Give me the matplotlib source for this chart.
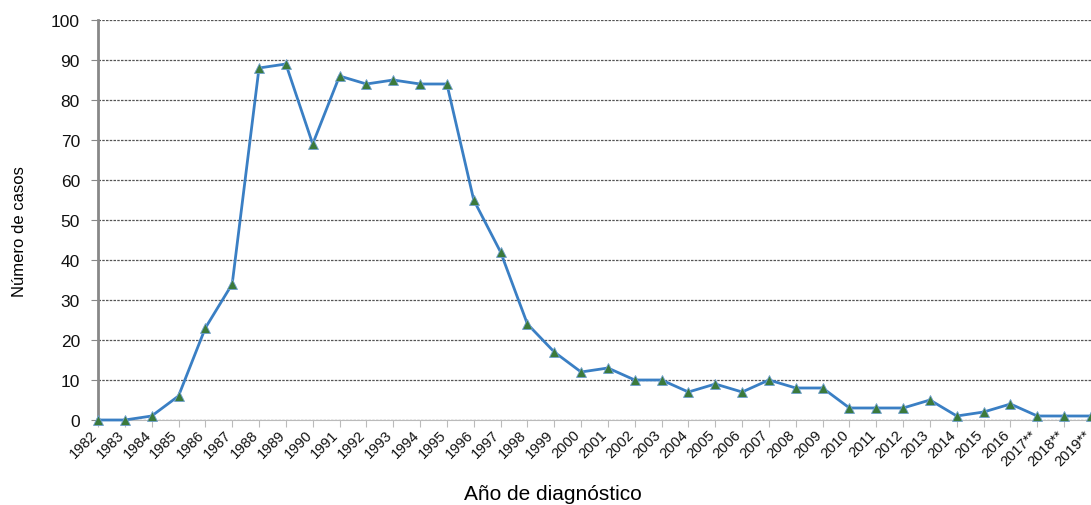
import matplotlib
matplotlib.use("Agg")
from matplotlib import pyplot as plt
from matplotlib.transforms import ScaledTranslation
import numpy as np

plt.rcParams['font.family'] = ['Liberation Sans', 'DejaVu Sans']

years = [str(y) for y in range(1982, 2017)] + ['2017**', '2018**', '2019**']
cases = [0, 0, 1, 6, 23, 34, 88, 89, 69, 86, 84, 85, 84, 84, 55, 42, 24, 17,
         12, 13, 10, 10, 7, 9, 7, 10, 8, 8, 3, 3, 3, 5, 1, 2, 4, 1, 1, 1]
y_ticks = list(range(0, 101, 10))

fig = plt.figure(figsize=(10.91, 5.06), dpi=100)
ax = fig.add_axes([98 / 1091, 1 - 421 / 506, 1 - 98 / 1091, 400 / 506])

x = np.arange(len(years))
ax.plot(x, cases, color='#3a7fc4', lw=2, marker='^', markersize=7,
        markerfacecolor='#3b7a3b', markeredgecolor='#6fa0d0',
        markeredgewidth=0.6, clip_on=False, zorder=3)

ax.set_xlim(0, len(years) - 1)
ax.set_ylim(0, 100)
ax.set_yticks(y_ticks)
ax.set_xticks(x)
ax.set_xticklabels([])
# rotated year labels, nudged left so the last one stays inside the figure
lbl_trans = ax.get_xaxis_transform() + ScaledTranslation(-8 / 100, -7 / 100,
                                                         fig.dpi_scale_trans)
for xi, yr in zip(x, years):
    ax.text(xi, 0, yr, transform=lbl_trans, rotation=45, ha='right',
            va='top', rotation_mode='anchor', fontsize=10.5, color='#111111')

ax.tick_params(axis='y', labelsize=12.5, length=5, color='#888888', pad=8,
               labelcolor='#111111')
ax.tick_params(axis='x', length=5, color='#bbbbbb')

ax.grid(axis='y', linestyle=(0, (2, 1)), color='#555555', lw=0.9)
ax.set_axisbelow(True)
for side in ['top', 'right']:
    ax.spines[side].set_visible(False)
ax.spines['left'].set_color('#888888')
ax.spines['left'].set_linewidth(2)
ax.spines['bottom'].set_color('#bbbbbb')

fig.text(20 / 1091, 1 - 232 / 506, 'Número de casos', fontsize=12,
         rotation=90, ha='center', va='center')
fig.text(553 / 1091, 1 - 495 / 506, 'Año de diagnóstico', fontsize=15,
         ha='center', va='center')

fig.savefig('out.png', dpi=100)
